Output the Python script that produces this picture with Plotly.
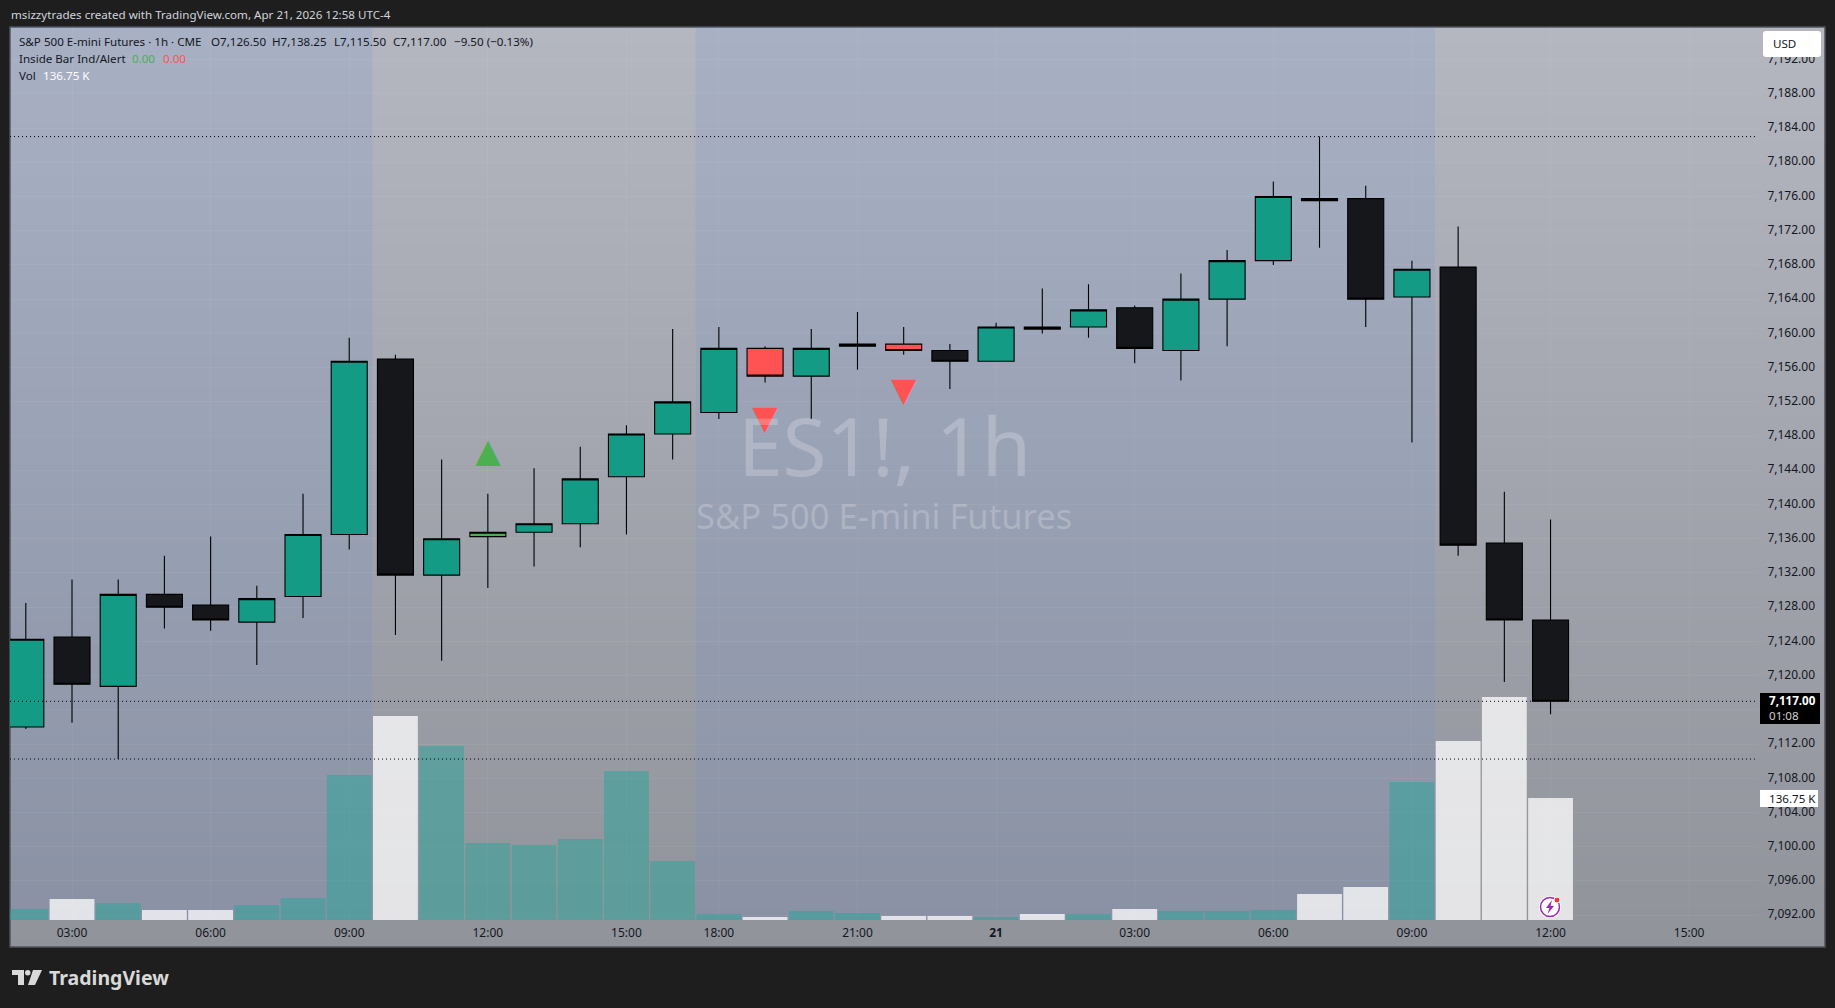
import plotly.graph_objects as go

W, H = 1835, 1008

# one label slot per hourly bar, the session breaks at 17:00 so bars are spaced by index
bar_hours = ["02:00", "03:00", "04:00", "05:00", "06:00", "07:00", "08:00", "09:00", "10:00",
             "11:00", "12:00", "13:00", "14:00", "15:00", "16:00", "18:00", "19:00", "20:00",
             "21:00", "22:00", "23:00", "00:00", "01:00", "02:00", "03:00", "04:00", "05:00",
             "06:00", "07:00", "08:00", "09:00", "10:00", "11:00", "12:00"]
opens = [7114.00, 7124.50, 7118.75, 7129.50, 7128.25, 7126.25, 7129.25, 7136.50, 7157.00,
         7131.75, 7136.25, 7136.75, 7137.75, 7143.25, 7148.25, 7150.75, 7158.25, 7155.00,
         7158.50, 7158.75, 7158.00, 7156.75, 7160.75, 7160.75, 7163.00, 7158.00, 7164.00,
         7168.50, 7175.75, 7175.75, 7164.25, 7167.75, 7135.50, 7126.50]
highs = [7128.50, 7131.25, 7131.25, 7134.00, 7136.25, 7130.50, 7141.25, 7159.50, 7157.50,
         7145.25, 7141.25, 7144.25, 7146.75, 7149.25, 7160.50, 7160.75, 7158.50, 7160.50,
         7162.50, 7160.75, 7158.75, 7161.25, 7165.25, 7165.75, 7163.25, 7167.00, 7169.75,
         7177.75, 7183.00, 7177.25, 7168.50, 7172.50, 7141.50, 7138.25]
lows = [7113.75, 7114.50, 7110.25, 7125.50, 7125.25, 7121.25, 7126.75, 7134.75, 7124.75,
        7121.75, 7130.25, 7132.75, 7135.00, 7136.50, 7145.25, 7150.00, 7154.25, 7150.00,
        7155.75, 7157.50, 7153.50, 7156.75, 7160.00, 7159.50, 7156.50, 7154.50, 7158.50,
        7168.00, 7170.00, 7160.75, 7147.25, 7134.00, 7119.25, 7115.50]
closes = [7124.25, 7119.00, 7129.50, 7128.00, 7126.50, 7129.00, 7136.50, 7156.75, 7131.75,
          7136.00, 7136.75, 7137.75, 7143.00, 7148.25, 7152.00, 7158.25, 7155.00, 7158.25,
          7158.75, 7158.00, 7156.75, 7160.75, 7160.50, 7162.75, 7158.25, 7164.00, 7168.50,
          7176.00, 7175.50, 7164.00, 7167.50, 7135.25, 7126.50, 7117.00]
volumes = [12.3, 23.5, 19.1, 11.2, 11.2, 16.8, 24.7, 162.6, 228.7, 195.1, 86.3, 84.1, 90.8,
           167.0, 66.1, 6.7, 3.4, 10.1, 7.8, 4.5, 4.5, 3.0, 6.7, 6.7, 12.3, 10.1, 10.1, 11.2,
           29.1, 37.0, 154.7, 200.7, 250.0, 136.75]

# inside bar indicator
red_bars = [16, 19]
green_bars = [10]
signal_up_bars = [10]
signal_up_prices = [7145.95]
signal_down_bars = [16, 19]
signal_down_prices = [7149.8, 7153.05]

level_prices = [7183.0, 7117.0, 7110.25]
# extended hours, as bar index edges
session_spans = [(-0.342, 7.5), (14.5, 30.5)]

x_tick_bars = [1, 4, 7, 10, 13, 15, 18, 21, 24, 27, 30, 33, 36]
x_tick_labels = ["03:00", "06:00", "09:00", "12:00", "15:00", "18:00", "21:00", "<b>21</b>",
                 "03:00", "06:00", "09:00", "12:00", "15:00"]
price_ticks = [7092, 7096, 7100, 7104, 7108, 7112, 7116, 7120, 7124, 7128, 7132, 7136, 7140,
               7144, 7148, 7152, 7156, 7160, 7164, 7168, 7172, 7176, 7180, 7184, 7188, 7192]

FONT = "Noto Sans"
TEAL = "#149b85"
BLACK = "#16171a"
INK = "#131722"


def px(x):
    return x / W


def py(y):
    return 1 - y / H


def path(points):
    return "M" + " L".join(f"{px(x)},{py(y)}" for x, y in points) + " Z"


def rounded_box(x0, y0, x1, y1, r):
    return (f"M{px(x0 + r)},{py(y0)} L{px(x1 - r)},{py(y0)} Q{px(x1)},{py(y0)} {px(x1)},{py(y0 + r)} "
            f"L{px(x1)},{py(y1 - r)} Q{px(x1)},{py(y1)} {px(x1 - r)},{py(y1)} "
            f"L{px(x0 + r)},{py(y1)} Q{px(x0)},{py(y1)} {px(x0)},{py(y1 - r)} "
            f"L{px(x0)},{py(y0 + r)} Q{px(x0)},{py(y0)} {px(x0 + r)},{py(y0)} Z")


def add_candles(fig, bars, fill):
    fig.add_trace(go.Candlestick(
        x=bars,
        open=[opens[i] for i in bars],
        high=[highs[i] for i in bars],
        low=[lows[i] for i in bars],
        close=[closes[i] for i in bars],
        yaxis="y2",
        whiskerwidth=0,
        line_width=1.1,
        increasing=dict(line_color="#000000", fillcolor=fill),
        decreasing=dict(line_color="#000000", fillcolor=fill),
        showlegend=False,
    ))


def text(x, y, s, size=11.6, color=INK, anchor="left", **kw):
    return dict(x=px(x), y=py(y), xref="paper", yref="paper", text=s, showarrow=False, borderpad=0,
                xanchor=anchor, yanchor="middle", font=dict(family=FONT, size=size, color=color), **kw)


def tag_box(x0, y0, x1, y1, color):
    return dict(type="rect", xref="paper", yref="paper", x0=px(x0), x1=px(x1), y0=py(y1), y1=py(y0),
                fillcolor=color, line_width=0, layer="above")


all_bars = list(range(len(bar_hours)))
painted = red_bars + green_bars
up_bars = [i for i in all_bars if closes[i] >= opens[i] and i not in painted]
down_bars = [i for i in all_bars if closes[i] < opens[i] and i not in painted]

fig = go.Figure()

fig.add_trace(go.Bar(
    x=all_bars,
    y=volumes,
    width=0.97,
    marker_color=["rgba(255,255,255,0.75)" if c < o else "rgba(38,166,154,0.5)"
                  for o, c in zip(opens, closes)],
    marker_line_width=0,
    showlegend=False,
))
add_candles(fig, up_bars, TEAL)
add_candles(fig, down_bars, BLACK)
add_candles(fig, red_bars, "#ff5252")
add_candles(fig, green_bars, "#4caf50")

fig.add_trace(go.Scatter(
    x=signal_up_bars, y=signal_up_prices, yaxis="y2", mode="text", text=["▲"] * len(signal_up_bars),
    textfont=dict(family="DejaVu Sans", size=33, color="#4caf50"), showlegend=False,
))
fig.add_trace(go.Scatter(
    x=signal_down_bars, y=signal_down_prices, yaxis="y2", mode="text", text=["▼"] * len(signal_down_bars),
    textfont=dict(family="DejaVu Sans", size=33, color="#ff5252"), showlegend=False,
))

# screenshot background gradient, painted from the top down in thin steps
shapes = []
TOP, BOTTOM = (180, 182, 192), (145, 147, 155)
for y in range(27, 947, 6):
    t = (y - 27) / 920
    r, g, b = [round(a + (c - a) * t) for a, c in zip(TOP, BOTTOM)]
    shapes.append(dict(type="rect", xref="paper", yref="paper", x0=px(10), x1=px(1825), y0=py(y), y1=py(947),
                       fillcolor=f"rgb({r},{g},{b})", line_width=0, layer="below"))
shapes.append(dict(type="rect", xref="paper", yref="paper", x0=px(10), x1=px(1825), y0=py(27), y1=py(947),
                   line=dict(color="#50535e", width=1.5), layer="below"))
for x0, x1 in session_spans:
    shapes.append(dict(type="rect", xref="x", yref="paper", x0=x0, x1=x1, y0=py(920), y1=py(27),
                       fillcolor="rgba(70,130,240,0.1)", line_width=0, layer="below"))
for level in level_prices:
    shapes.append(dict(type="line", xref="x domain", yref="y2", x0=0, x1=1, y0=level, y1=level,
                       line=dict(color="#000000", width=1, dash="1px,3px"), layer="above"))

# USD button, price tags and the little publish icon
shapes.append(dict(type="path", xref="paper", yref="paper", path=rounded_box(1763, 31, 1821, 57, 3),
                   fillcolor="#ffffff", line_width=0, layer="above"))
shapes.append(tag_box(1760, 693, 1820, 724, "#000000"))
shapes.append(tag_box(1760, 790, 1818, 807, "#ffffff"))
shapes.append(dict(type="circle", xref="paper", yref="paper", x0=px(1539), x1=px(1561), y0=py(918), y1=py(896),
                   fillcolor="#ffffff", line_width=0, layer="above"))
shapes.append(dict(type="circle", xref="paper", yref="paper", x0=px(1540.5), x1=px(1559.5), y0=py(916.5), y1=py(897.5),
                   fillcolor="rgba(0,0,0,0)", line=dict(color="#9c27b0", width=1.5), layer="above"))
shapes.append(dict(type="path", xref="paper", yref="paper",
                   path=path([(1552, 900), (1546, 908), (1549.5, 908), (1547.5, 914), (1554, 906), (1550.5, 906)]),
                   fillcolor="#9c27b0", line_width=0, layer="above"))
shapes.append(dict(type="circle", xref="paper", yref="paper", x0=px(1554), x1=px(1560), y0=py(903), y1=py(897),
                   fillcolor="#f23645", line=dict(color="#ffffff", width=1), layer="above"))

# TradingView mark
for pts in ([(12, 970), (24, 970), (24, 985), (18, 985), (18, 975), (12, 975)],
            [(33, 970), (42, 970), (35, 985), (28, 985)]):
    shapes.append(dict(type="path", xref="paper", yref="paper", path=path(pts),
                       fillcolor="#d9d9d9", line_width=0, layer="above"))
shapes.append(dict(type="circle", xref="paper", yref="paper", x0=px(25), x1=px(30.5), y0=py(975.5), y1=py(970),
                   fillcolor="#d9d9d9", line_width=0, layer="above"))

annotations = [
    text(9.5, 15, "msizzytrades created with TradingView.com, Apr 21, 2026 12:58 UTC-4", color="#d1d4dc"),
    text(18, 42, "S&P 500 E-mini Futures · 1h · CME"),
    text(209.5, 42, "O7,126.50"),
    text(270.5, 42, "H7,138.25"),
    text(333, 42, "L7,115.50"),
    text(392, 42, "C7,117.00"),
    text(453, 42, "−9.50 (−0.13%)"),
    text(18, 58.5, "Inside Bar Ind/Alert"),
    text(131, 58.5, "0.00", color="#4caf50"),
    text(161.5, 58.5, "0.00", color="#ff5252"),
    text(18, 76, "Vol"),
    text(41.5, 76, "136.75 K", color="#ffffff"),
    text(884, 444, "ES1!, 1h", size=80, color="rgba(255,255,255,0.22)", anchor="center"),
    text(884, 515, "S&P 500 E-mini Futures", size=34.6, color="rgba(255,255,255,0.22)", anchor="center"),
    text(1772, 44, "USD"),
    text(1768, 700.5, "<b>7,117.00</b>", color="#ffffff"),
    text(1768, 715, "01:08", color="#d0d0d0"),
    text(1768, 798.5, "136.75 K"),
    text(48, 977.5, "<b>TradingView</b>", size=19.5, color="#d9d9d9"),
]

fig.update_layout(
    width=W,
    height=H,
    margin=dict(l=0, r=0, t=0, b=0, autoexpand=False),
    paper_bgcolor="#1e1e1e",
    plot_bgcolor="rgba(0,0,0,0)",
    barmode="overlay",
    boxgap=0.22,
    boxgroupgap=0,
    showlegend=False,
    shapes=shapes,
    annotations=annotations,
    font=dict(family=FONT, size=12, color=INK),
    xaxis=dict(
        domain=[px(10), px(1758)],
        range=[-0.342, 37.49],
        rangeslider=dict(visible=False),
        tickmode="array",
        tickvals=x_tick_bars,
        ticktext=x_tick_labels,
        ticks="outside",
        ticklen=2,
        tickcolor="rgba(0,0,0,0)",
        showgrid=True,
        gridcolor="rgba(255,255,255,0.05)",
        zeroline=False,
        showline=False,
    ),
    yaxis=dict(
        domain=[py(920), py(27)],
        range=[0, 1001],
        visible=False,
    ),
    yaxis2=dict(
        overlaying="y",
        side="right",
        range=[7091.44, 7195.81],
        tickmode="array",
        tickvals=price_ticks,
        tickformat=",.2f",
        ticks="outside",
        ticklen=6,
        ticklabelshift=-1,
        tickcolor="rgba(0,0,0,0)",
        showgrid=True,
        gridcolor="rgba(255,255,255,0.05)",
        zeroline=False,
        showline=False,
    ),
)

fig.write_html("out.html", config={"displayModeBar": False},
               post_script="document.body.style.margin='0';document.body.style.overflow='hidden';")
